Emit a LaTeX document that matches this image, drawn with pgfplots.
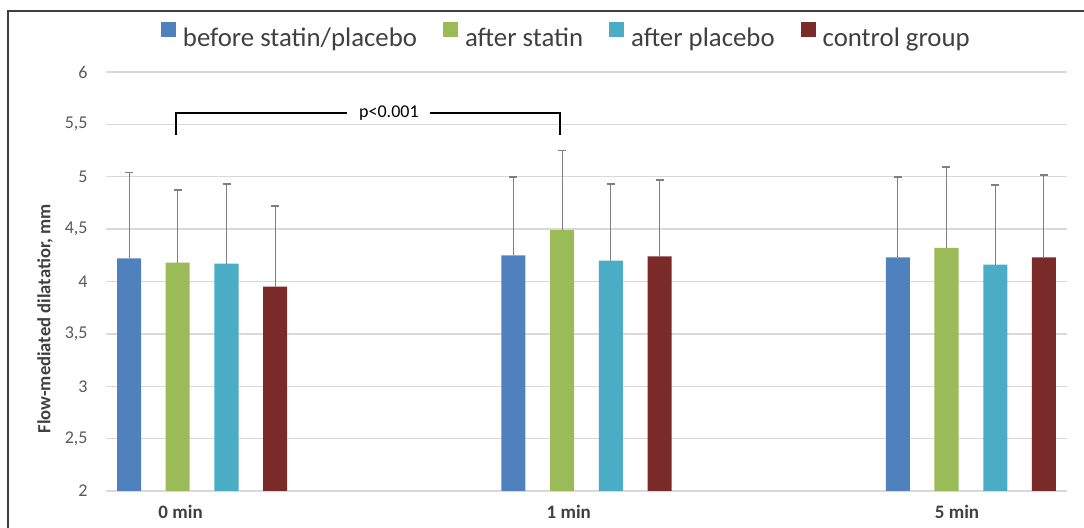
\documentclass[border=0pt]{standalone}
\usepackage{pgfplots}
\pgfplotsset{compat=1.18}
\usepackage{pgfplotstable}
\usepackage{fontspec}
\setmainfont{Carlito}
\definecolor{cBlue}{HTML}{4F81BD}
\definecolor{cGreen}{HTML}{9BBB59}
\definecolor{cCyan}{HTML}{4BACC6}
\definecolor{cRed}{HTML}{7A2B29}
\definecolor{gridc}{HTML}{D9D9D9}
\definecolor{txt}{HTML}{595959}
\definecolor{txtd}{HTML}{404040}
\definecolor{errc}{HTML}{7F7F7F}
\definecolor{framec}{HTML}{3F3F3F}

% x: group position (0 = 0 min, 1 = 1 min, 2 = 5 min); y: mean; e: upper SD
\pgfplotstableread{
x y e
0 4.22 0.82
1 4.25 0.75
2 4.23 0.77
}\before
\pgfplotstableread{
x y e
0 4.18 0.69
1 4.49 0.76
2 4.32 0.77
}\afterstatin
\pgfplotstableread{
x y e
0 4.17 0.76
1 4.20 0.73
2 4.16 0.76
}\afterplacebo
\pgfplotstableread{
x y e
0 3.95 0.77
1 4.24 0.73
2 4.23 0.79
}\control

\begin{document}
\begin{tikzpicture}
\useasboundingbox (0,0) rectangle (542pt,-264pt);
\draw[framec, line width=0.6pt] (4pt,-270pt) -- (4pt,-5.5pt) -- (550pt,-5.5pt);
\begin{axis}[
  at={(53pt,-245.5pt)}, anchor=south west,
  scale only axis,
  width=480.5pt, height=209.5pt,
  xmin=-0.25, xmax=2.25,
  ymin=2, ymax=6,
  ytick={2,2.5,3,3.5,4,4.5,5,5.5,6},
  xtick={-0.056,0.954,1.964},
  xticklabels={0 min,1 min,5 min},
  ymajorgrids,
  grid style={gridc, line width=0.7pt},
  axis line style={draw=none},
  tick style={draw=none},
  /pgf/number format/use comma,
  /pgf/number format/assume math mode=true,
  yticklabel style={font=\fontsize{9}{10}\selectfont, text=txt, inner sep=0pt, xshift=-9pt},
  xticklabel style={font=\fontsize{9.5}{11}\selectfont\bfseries, text=txtd, inner sep=0pt, yshift=-2.8pt},
  ybar=0pt,
  bar width=0.0625,
  error bars/y dir=plus,
  error bars/y explicit,
  error bars/error mark=|,
  error bars/error bar style={errc, line width=0.55pt},
  error bars/error mark options={errc, mark size=2pt, line width=0.9pt},
  legend image code/.code={\fill[#1] (0pt,0.85pt) rectangle (7.5pt,8.35pt);},
  legend columns=4,
  legend style={draw=none, fill=none, at={(0.0572,1.0823)}, anchor=west,
    inner sep=0pt, outer sep=0pt,
    font=\fontsize{13.4}{15}\selectfont, text=txtd,
    /tikz/every odd column/.append style={column sep=1.5pt},
    /tikz/every even column/.append style={column sep=11pt}},
  clip=false,
]
\addplot[fill=cBlue, draw=none, bar shift=-0.19] table[x=x, y=y, y error=e] {\before};
\addlegendentry{before statin/placebo}
\addplot[fill=cGreen, draw=none, bar shift=-0.0635] table[x=x, y=y, y error=e] {\afterstatin};
\addlegendentry{after statin}
\addplot[fill=cCyan, draw=none, bar shift=0.0635] table[x=x, y=y, y error=e] {\afterplacebo};
\addlegendentry{after placebo}
\addplot[fill=cRed, draw=none, bar shift=0.19] table[x=x, y=y, y error=e] {\control};
\addlegendentry{control group}
% significance bracket
\draw[black, line width=1pt] (axis cs:-0.068,5.40) -- (axis cs:-0.068,5.606) -- (axis cs:0.378,5.606);
\draw[black, line width=1pt] (axis cs:0.592,5.606) -- (axis cs:0.932,5.606) -- (axis cs:0.932,5.40);
\node[font=\fontsize{9}{11}\selectfont, text=black, inner sep=0pt] at (axis cs:0.486,5.606) {p<0.001};
\end{axis}
\node[rotate=90, font=\fontsize{9.3}{11}\selectfont\bfseries, text=txtd, inner sep=0pt] at (22.5pt,-159.5pt) {Flow-mediated dilatatior, mm};
\end{tikzpicture}
\end{document}
